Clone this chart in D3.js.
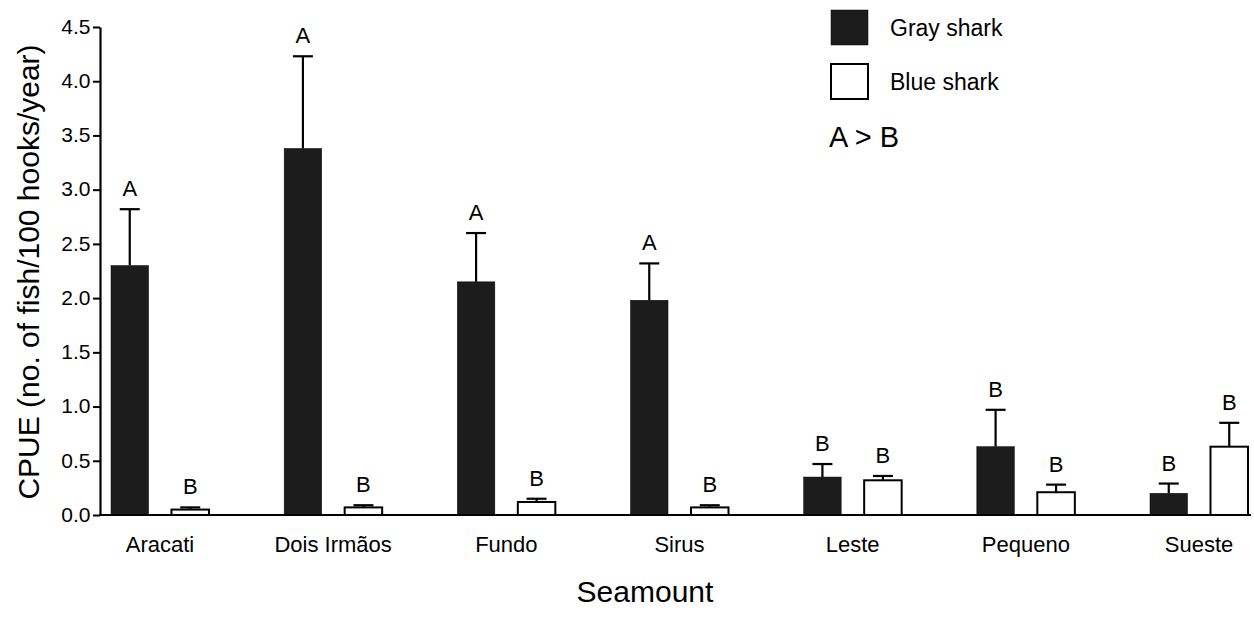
<!DOCTYPE html>
<html><head><meta charset="utf-8">
<script src="https://cdn.jsdelivr.net/npm/d3@7"></script>
<style>body{margin:0;background:#fff}svg{display:block}text{font-family:"Liberation Sans",Arial,sans-serif;fill:#000}</style>
</head><body><svg id="c" width="1254" height="622"></svg>
<script>
const categories = ["Aracati","Dois Irmãos","Fundo","Sirus","Leste","Pequeno","Sueste"];
const seriesNames = ["Gray shark","Blue shark"];
const grayMean = [2.30,3.38,2.15,1.98,0.35,0.63,0.20];
const grayErrTop = [2.82,4.23,2.60,2.32,0.47,0.97,0.29];
const blueMean = [0.05,0.07,0.12,0.07,0.32,0.21,0.63];
const blueErrTop = [0.07,0.09,0.15,0.09,0.36,0.28,0.85];
const grayLetters = ["A","A","A","A","B","B","B"];
const blueLetters = ["B","B","B","B","B","B","B"];
const yTicks = [0,0.5,1,1.5,2,2.5,3,3.5,4,4.5];

const svg = d3.select("#c");
const y = d3.scaleLinear().domain([0,4.5]).range([515,27]);
const xg = d3.scalePoint().domain(categories).range([160,1199]);
const xi = d3.scaleBand().domain(seriesNames).range([-49,49]).paddingInner(0.38);
const bw = xi.bandwidth();

const rows = [];
categories.forEach((c,i)=>{
  rows.push({c, s:seriesNames[0], v:grayMean[i], e:grayErrTop[i], l:grayLetters[i]});
  rows.push({c, s:seriesNames[1], v:blueMean[i], e:blueErrTop[i], l:blueLetters[i]});
});
const cx = d => xg(d.c) + xi(d.s) + bw/2;

// error bars
const eb = svg.append("g").attr("stroke","#000").attr("stroke-width",2.2);
eb.selectAll("line.v").data(rows).join("line")
  .attr("x1",cx).attr("x2",cx).attr("y1",d=>y(d.v)).attr("y2",d=>y(d.e));
eb.selectAll("line.c").data(rows).join("line")
  .attr("x1",d=>cx(d)-10).attr("x2",d=>cx(d)+10).attr("y1",d=>y(d.e)).attr("y2",d=>y(d.e));

// bars
svg.append("g").selectAll("rect").data(rows).join("rect")
  .attr("x",d=>xg(d.c)+xi(d.s)).attr("width",bw)
  .attr("y",d=>y(d.v)).attr("height",d=>y(0)-y(d.v))
  .attr("fill",d=>d.s===seriesNames[0]?"#1c1c1c":"#fff")
  .attr("stroke","#000").attr("stroke-width",d=>d.s===seriesNames[0]?0.5:2);

// letters
svg.append("g").selectAll("text").data(rows).join("text")
  .attr("x",cx).attr("y",d=>y(d.e)-13).attr("text-anchor","middle")
  .attr("font-size",22).text(d=>d.l);

// y axis
const ya = svg.append("g").attr("transform","translate(100,0)")
  .call(d3.axisLeft(y).tickValues(yTicks).tickFormat(d3.format(".1f")).tickSize(7).tickSizeOuter(0));
ya.select(".domain").attr("stroke-width",2.2);
ya.selectAll(".tick line").attr("stroke-width",2);
ya.selectAll(".tick text").attr("font-size",21).attr("font-family","Liberation Sans, Arial, sans-serif").attr("x",-9.5).attr("dy","0.3em").attr("fill","#000");

// x axis line
svg.append("line").attr("x1",99).attr("x2",1251).attr("y1",y(0)).attr("y2",y(0))
  .attr("stroke","#000").attr("stroke-width",2.2);

// category labels
svg.append("g").selectAll("text").data(categories).join("text")
  .attr("x",d=>xg(d)).attr("y",552).attr("text-anchor","middle").attr("font-size",22).text(d=>d);

// axis titles
svg.append("text").attr("x",645).attr("y",602).attr("text-anchor","middle").attr("font-size",30).text("Seamount");
svg.append("text").attr("transform","translate(39,272) rotate(-90)").attr("text-anchor","middle").attr("font-size",30).text("CPUE (no. of fish/100 hooks/year)");

// legend
const lg = svg.append("g");
seriesNames.forEach((s,i)=>{
  lg.append("rect").attr("x",831).attr("y",10+i*54).attr("width",37).attr("height",35)
    .attr("fill",i===0?"#1c1c1c":"#fff").attr("stroke","#000").attr("stroke-width",i===0?0.5:2);
  lg.append("text").attr("x",890).attr("y",36+i*54).attr("font-size",23).text(s);
});
lg.append("text").attr("x",829).attr("y",147).attr("font-size",29).text("A > B");
</script></body></html>
